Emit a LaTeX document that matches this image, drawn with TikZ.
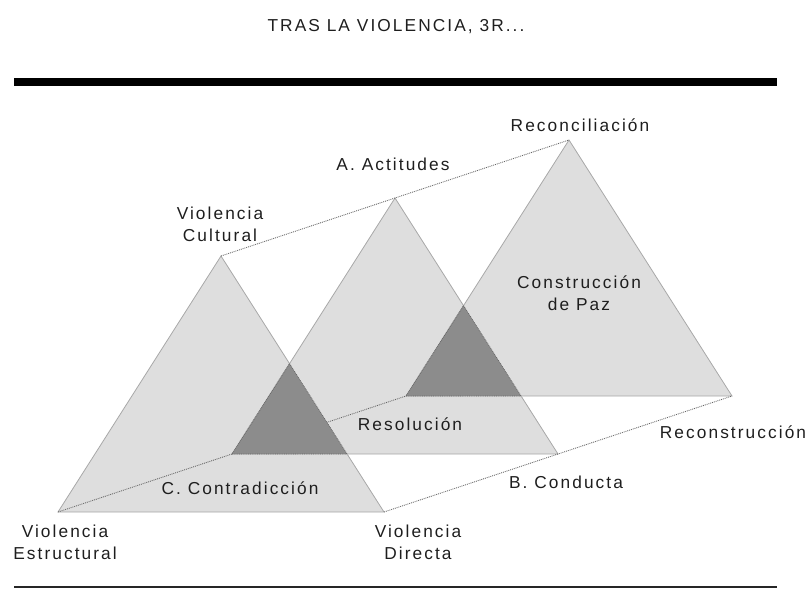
\documentclass[tikz,border=0pt]{standalone}
\usepackage{fontspec}
\setmainfont{Liberation Sans}[LetterSpace=12]
\usepackage{tikz}
\usetikzlibrary{calc}

\definecolor{trifill}{HTML}{DEDEDE}
\definecolor{triline}{HTML}{A8A8A8}
\definecolor{corefill}{HTML}{8C8C8C}
\definecolor{linkline}{HTML}{666666}
\definecolor{lbltext}{HTML}{1E1E1E}

\tikzset{
  tri/.style={fill=trifill,draw=triline,line width=0.8pt,line join=miter},
  core/.style={fill=corefill,draw=linkline,densely dotted,line width=0.8pt},
  link/.style={draw=linkline,densely dotted,line width=0.9pt},
  lbl/.style={align=center,inner sep=0pt,text=lbltext,
    font=\fontsize{17.3}{21.5}\selectfont}
}

\begin{document}
\begin{tikzpicture}[x=1pt,y=-1pt]
  \useasboundingbox (0,0) rectangle (809,589);

  % title and rules
  \node[lbl] (title) at (396,27) {TRAS LA VIOLENCIA, 3R...};
  \draw[line width=8pt] (14,82) -- (777,82);
  \draw[line width=1.4pt,draw=black!85] (14,587) -- (777,587);

  % three triangles, each shifted back along the depth axis
  \foreach \i in {0,1,2} {
    \coordinate (l\i) at (58+174*\i,512-58*\i);
    \coordinate (r\i) at (384+174*\i,512-58*\i);
    \coordinate (t\i) at (221+174*\i,256-58*\i);
    \filldraw[tri] (l\i) -- (r\i) -- (t\i) -- cycle;
  }

  % depth links
  \draw[link] (t0) -- (t2);
  \draw[link] (l0) -- (l2);
  \draw[link] (r0) -- (r2);

  % overlaps
  \foreach \i/\j in {0/1,1/2} {
    \coordinate (cb\i) at ($(r\i)!0.2266!(t\i)$);
    \coordinate (ca\i) at ($(r\i)!0.5796!(t\i)$);
    \filldraw[core] (l\j) -- (cb\i) -- (ca\i) -- cycle;
  }

  % vertex labels
  \node[lbl] (cult) at (220,224.5) {Violencia\\Cultural};
  \node[lbl] (estr) at (65,542.5) {Violencia\\Estructural};
  \node[lbl] (dir) at (418,542.5) {Violencia\\Directa};
  \node[lbl] (reconc) at (580,125) {Reconciliación};
  \node[lbl] (reconst) at (733,432) {Reconstrucción};

  % axis and area labels
  \node[lbl] (act) at (393,164) {A. Actitudes};
  \node[lbl] (cond) at (566,482) {B. Conducta};
  \node[lbl] (contr) at (240,488) {C. Contradicción};
  \node[lbl] (resol) at (410,424) {Resolución};
  \node[lbl] (paz) at (579,293) {Construcción\\de Paz};
\end{tikzpicture}
\end{document}
